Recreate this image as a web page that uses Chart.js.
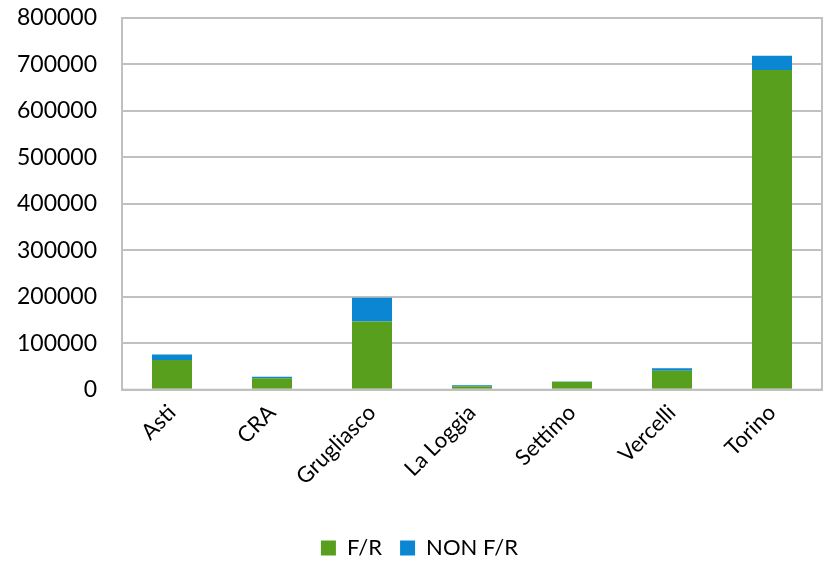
<!DOCTYPE html>
<html>
<head>
<meta charset="utf-8">
<script src="https://cdn.jsdelivr.net/npm/chart.js@4/dist/chart.umd.min.js"></script>
<style>
  html, body { margin: 0; padding: 0; background: #fff; }
  #wrap { width: 834px; height: 569px; }
</style>
</head>
<body>
<div id="wrap"><canvas id="barChart" width="834" height="569"></canvas></div>
<script>
// --- data ---
const sedi = ['Asti', 'CRA', 'Grugliasco', 'La Loggia', 'Settimo', 'Vercelli', 'Torino'];
const frValues = [64000, 24500, 146500, 7500, 17000, 41000, 688000];
const nonFrValues = [12000, 3500, 51500, 1800, 500, 5000, 31000];
const yTicks = [0, 100000, 200000, 300000, 400000, 500000, 600000, 700000, 800000];

const ctx = document.getElementById('barChart').getContext('2d');
Chart.defaults.font.family = 'Lato, "Open Sans", sans-serif';
Chart.defaults.color = '#000';

// gray frame around the plot area
const plotFrame = {
    id: 'plotFrame',
    afterDraw(chart) {
        const a = chart.chartArea;
        const c = chart.ctx;
        c.save();
        c.strokeStyle = '#c0c0c0';
        c.lineWidth = 2;
        c.strokeRect(a.left, a.top, a.right - a.left, a.bottom - a.top);
        c.restore();
    }
};

new Chart(ctx, {
    type: 'bar',
    data: {
        labels: sedi,
        datasets: [
            {
                label: 'F/R',
                data: frValues,
                backgroundColor: '#589f1e',
                categoryPercentage: 1,
                barPercentage: 0.4
            },
            {
                label: 'NON F/R',
                data: nonFrValues,
                backgroundColor: '#0a86d2',
                categoryPercentage: 1,
                barPercentage: 0.4
            }
        ]
    },
    options: {
        responsive: false,
        animation: false,
        layout: { padding: { top: 18, right: 12, left: 17, bottom: 0 } },
        plugins: {
            legend: {
                position: 'bottom',
                labels: { boxWidth: 15, boxHeight: 15, font: { size: 22 }, padding: 18, color: '#000' }
            },
            tooltip: { enabled: false }
        },
        scales: {
            x: {
                stacked: true,
                grid: { display: false },
                border: { color: '#c0c0c0', width: 2 },
                // leave room between the rotated labels and the legend
                afterFit: axis => {
                    axis.height += 27;
                    axis.paddingLeft = 0;
                    axis.paddingRight = 0;
                },
                ticks: { font: { size: 22 }, maxRotation: 45, minRotation: 45, padding: 2, color: '#000' }
            },
            y: {
                stacked: true,
                min: 0,
                max: 800000,
                afterBuildTicks: axis => { axis.ticks = yTicks.map(v => ({ value: v })); },
                afterFit: axis => {
                    axis.width = 105;
                    axis.paddingTop = 0;
                    axis.paddingBottom = 0;
                },
                grid: { color: '#c0c0c0', lineWidth: 2, drawTicks: false },
                border: { color: '#c0c0c0', width: 2 },
                ticks: { font: { size: 23 }, padding: 25, color: '#000', callback: v => String(v) }
            }
        }
    },
    plugins: [plotFrame]
});
</script>
</body>
</html>
